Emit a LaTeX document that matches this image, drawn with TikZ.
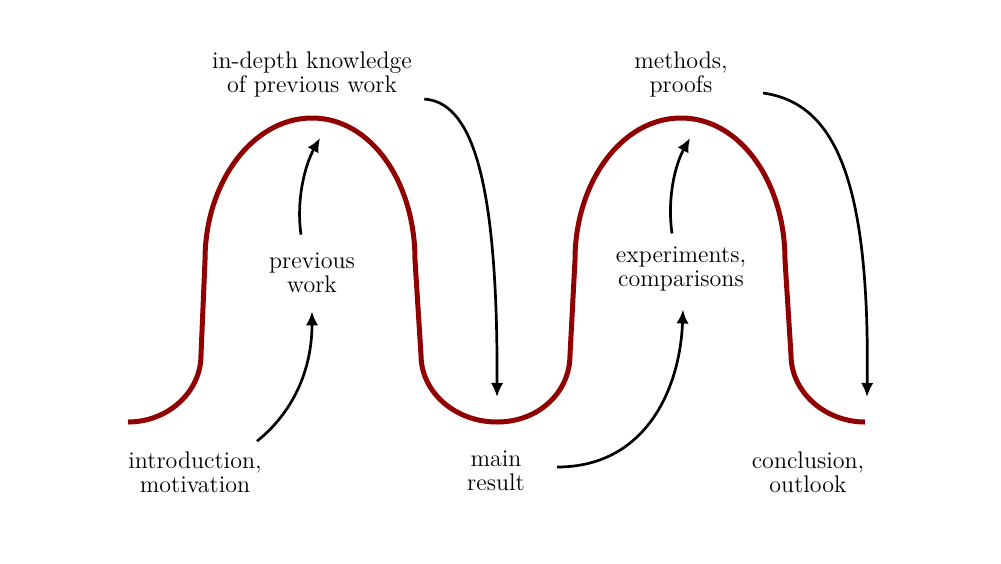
\documentclass[tikz,border=0pt]{standalone}
\usetikzlibrary{arrows.meta,calc}
\definecolor{wavered}{RGB}{145,0,0}
\begin{document}
\begin{tikzpicture}[x=0.5pt,y=-0.5pt,
  lbl/.style={align=center,font=\fontsize{12}{12}\selectfont,inner sep=2pt},
  flow/.style={line width=1.35pt,-{Latex[length=7pt,width=6.2pt]}},
  wave/.style={line width=2.5pt,draw=wavered}]
\useasboundingbox (0,0) rectangle (1001,563);
% curve key points
\coordinate (start) at (128,422);
\coordinate (top1) at (312,118);
\coordinate (bot1) at (497,422);
\coordinate (top2) at (681,118);
\coordinate (finish) at (865,422);
% red wave
\draw[wave] (start) .. controls (168,422) and (201,392) .. (201,355)
  -- (205,260) .. controls (205,182) and (253,118) .. (top1)
  .. controls (371,118) and (415,182) .. (415,260)
  -- (421,355) .. controls (421,392) and (455,422) .. (bot1)
  .. controls (539,422) and (570,392) .. (570,355)
  -- (575,260) .. controls (575,182) and (622,118) .. (top2)
  .. controls (740,118) and (785,182) .. (785,260)
  -- (791,355) .. controls (791,392) and (825,422) .. (finish);
% labels
\node[lbl] (intro) at (195,472) {introduction,\\motivation};
\node[lbl] (prev) at (312,273) {previous\\work};
\node[lbl] (deep) at (312,74) {in-depth knowledge\\of previous work};
\node[lbl] (main) at (496,471) {main\\result};
\node[lbl] (exp) at (681,269) {experiments,\\comparisons};
\node[lbl] (meth) at (681,74) {methods,\\proofs};
\node[lbl] (concl) at (808,472) {conclusion,\\outlook};
% arrows
\draw[flow] ($(intro.north east)+(-9,-6)$) .. controls +(35,-28) and +(0,60) .. ($(prev.south)+(0,14)$);
\draw[flow] ($(prev.north)+(-11,-14)$) .. controls +(-5,-35) and +(-15,27) .. ($(top1)+(8,20)$);
\draw[flow] ($(deep.south east)+(8,-2)$) .. controls +(45,3) and +(1,-227) .. ($(bot1)+(0,-25)$);
\draw[flow] ($(main.east)+(28,-4)$) .. controls +(88,0) and +(-3,80) .. ($(exp.south)+(2,14)$);
\draw[flow] ($(exp.north)+(-9,-9)$) .. controls +(-5,-35) and +(-15,27) .. ($(top2)+(9,20)$);
\draw[flow] ($(meth.south east)+(31,-8)$) .. controls +(72,10) and +(3,-217) .. ($(finish)+(2,-25)$);
\end{tikzpicture}
\end{document}
